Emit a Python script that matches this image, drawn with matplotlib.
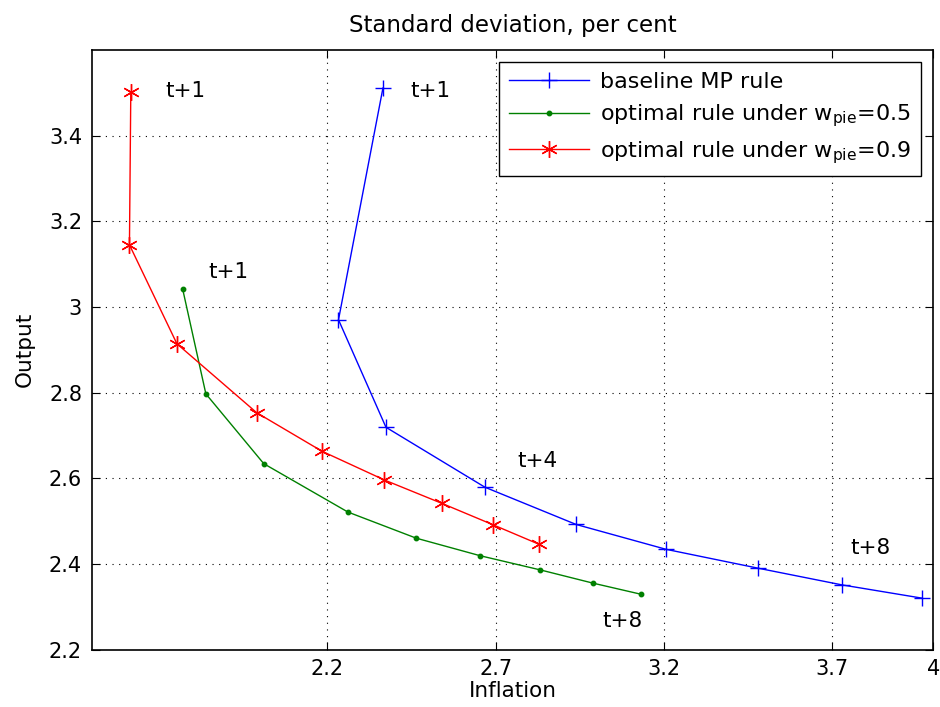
import numpy as np
import matplotlib
matplotlib.use('Agg')
import matplotlib.pyplot as plt
from matplotlib.ticker import FuncFormatter

plt.rcParams['font.family'] = ['DejaVu Sans']
plt.rcParams['mathtext.fontset'] = 'dejavusans'

# data (inflation sd, output sd)
base_infl = [2.365, 2.233, 2.374, 2.668, 2.939, 3.206, 3.479, 3.728, 3.966]
base_out = [3.511, 2.970, 2.719, 2.579, 2.492, 2.434, 2.390, 2.351, 2.320]

w05_infl = [1.770, 1.839, 2.011, 2.261, 2.464, 2.654, 2.832, 2.989, 3.132]
w05_out = [3.042, 2.797, 2.634, 2.521, 2.460, 2.419, 2.386, 2.355, 2.329]

w09_infl = [1.616, 1.612, 1.753, 1.990, 2.184, 2.369, 2.541, 2.693, 2.828]
w09_out = [3.501, 3.145, 2.914, 2.753, 2.663, 2.596, 2.541, 2.491, 2.446]

labels = ['baseline MP rule',
          r'optimal rule under w$_{\mathrm{pie}}$=0.5',
          r'optimal rule under w$_{\mathrm{pie}}$=0.9']

# horizon notes
note_txt = ['t+1', 't+1', 't+1', 't+4', 't+8', 't+8']
note_x = [1.718, 2.446, 1.846, 2.764, 3.753, 3.016]
note_y = [3.505, 3.505, 3.082, 2.640, 2.437, 2.266]

xticks = [2.2, 2.7, 3.2, 3.7, 4]
yticks = [2.2, 2.4, 2.6, 2.8, 3.0, 3.2, 3.4]

fig = plt.figure(figsize=(9.4, 7.07), dpi=100)
ax = fig.add_axes([0.0976, 0.0813, 0.8953, 0.848])

ax.plot(base_infl, base_out, color='blue', lw=1.0, marker='+', ms=12, mew=1.0, label=labels[0])
ax.plot(w05_infl, w05_out, color=(0, 0.5, 0), lw=1.0, marker='o', ms=3.2, label=labels[1])
ax.plot(w09_infl, w09_out, color='red', lw=1.0, marker=(6, 2, 0), ms=12, mew=1.0, label=labels[2])

for t, x, y in zip(note_txt, note_x, note_y):
    ax.text(x, y, t, fontsize=15.5, va='center', ha='left')

ax.set_xlim(1.5, 4)
ax.set_ylim(2.2, 3.6)
ax.set_xticks(xticks)
ax.set_yticks(yticks)
ax.xaxis.set_major_formatter(FuncFormatter(lambda v, p: '%g' % v))
ax.yaxis.set_major_formatter(FuncFormatter(lambda v, p: '%g' % v))
ax.tick_params(direction='in', length=6, width=0.8, labelsize=15, top=True, right=True, pad=7)
ax.grid(True, linestyle=(0, (1, 5)), color='black', lw=0.8)
for s in ax.spines.values():
    s.set_linewidth(1.2)

ax.set_xlabel('Inflation', fontsize=15.5, labelpad=1)
ax.set_ylabel('Output', fontsize=15.5, labelpad=10)
ax.set_title('Standard deviation, per cent', fontsize=16.5, pad=13)

leg = ax.legend(loc='upper right', fontsize=16, frameon=True, fancybox=False,
                edgecolor='black', framealpha=1, borderaxespad=0.55,
                handlelength=3.6, handletextpad=0.5, labelspacing=0.45, borderpad=0.45)
leg.get_frame().set_linewidth(1.0)

plt.savefig('out.png', dpi=100)
